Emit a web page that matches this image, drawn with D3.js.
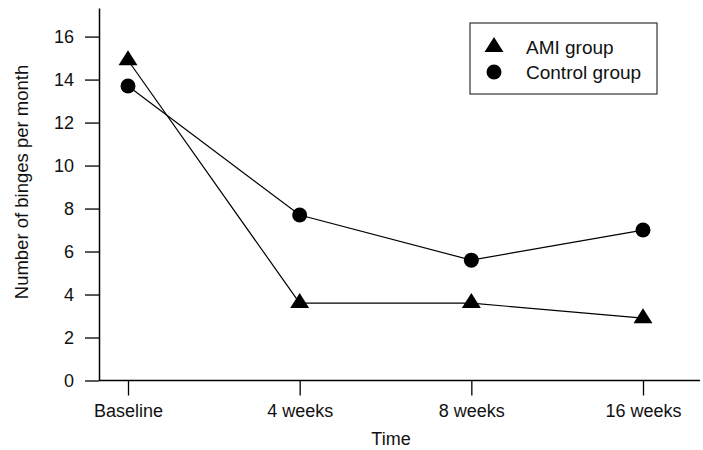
<!DOCTYPE html>
<html>
<head>
<meta charset="utf-8">
<script src="https://cdn.jsdelivr.net/npm/d3@7"></script>
<style>
  body { margin: 0; background: #fff; }
  svg { display: block; }
  text { font-family: "Liberation Sans", Arial, Helvetica, sans-serif; fill: #111; }
</style>
</head>
<body>
<div class="container"></div>
<script>
const WIDTH = 703;
const HEIGHT = 450;

// data
var timePoints = ["Baseline", "4 weeks", "8 weeks", "16 weeks"];
var amiValues = [14.9, 3.6, 3.6, 2.9];
var controlValues = [13.7, 7.7, 5.6, 7.0];
var yTicks = [0, 2, 4, 6, 8, 10, 12, 14, 16];
var seriesNames = ["AMI group", "Control group"];

var AXIS_X = 99;
var AXIS_Y = 380.5;

var translate = function (x, y) {
    return "translate(" + x + "," + y + ")";
};

var _xScale = d3.scalePoint()
    .domain(timePoints)
    .range([128, 643]);

var _yScale = d3.scaleLinear()
    .domain([0, 17.33])
    .range([AXIS_Y, 8]);

// triangle a bit flatter than an equilateral one, centred on its centroid
var trianglePath = function () {
    return "M0,-10L9.5,5L-9.5,5Z";
};

function drawMarker(sel, kind) {
    if (kind === 0) {
        sel.append("path").attr("d", trianglePath()).attr("fill", "#000");
    } else {
        sel.append("circle").attr("r", 7.5).attr("fill", "#000");
    }
}

var loadChart = function () {
    var svg = d3.select(".container").append("svg")
        .attr("width", WIDTH)
        .attr("height", HEIGHT);

    // y axis
    var yAxis = d3.axisLeft(_yScale)
        .tickValues(yTicks)
        .tickSize(14)
        .tickSizeOuter(0)
        .tickPadding(11);

    var gy = svg.append("g")
        .attr("transform", translate(AXIS_X, 0))
        .call(yAxis);
    gy.select(".domain").attr("stroke", "#000").attr("stroke-width", 1.5);
    gy.selectAll(".tick line").attr("stroke", "#000").attr("stroke-width", 1.3);
    gy.selectAll(".tick text")
        .style("font-size", "18px")
        .attr("fill", "#111");

    // x axis
    var xAxis = d3.axisBottom(_xScale)
        .tickSize(15)
        .tickSizeOuter(0)
        .tickPadding(9);

    var gx = svg.append("g")
        .attr("transform", translate(0, AXIS_Y))
        .call(xAxis);
    gx.select(".domain").remove();
    gx.append("line")
        .attr("x1", AXIS_X)
        .attr("x2", 700)
        .attr("stroke", "#000")
        .attr("stroke-width", 1.5);
    gx.selectAll(".tick line").attr("stroke", "#000").attr("stroke-width", 1.3);
    gx.selectAll(".tick text")
        .style("font-size", "18px")
        .attr("fill", "#111");

    // axis titles
    svg.append("text")
        .attr("transform", translate(28, 182) + " rotate(-90)")
        .attr("text-anchor", "middle")
        .style("font-size", "18.5px")
        .text("Number of binges per month");

    svg.append("text")
        .attr("x", 391)
        .attr("y", 445)
        .attr("text-anchor", "middle")
        .style("font-size", "18px")
        .text("Time");

    // series
    var series = [amiValues, controlValues];
    var line = d3.line()
        .x(function (d, i) { return _xScale(timePoints[i]); })
        .y(function (d) { return _yScale(d); });

    series.forEach(function (values) {
        svg.append("path")
            .datum(values)
            .attr("fill", "none")
            .attr("stroke", "#000")
            .attr("stroke-width", 1.2)
            .attr("d", line);
    });

    series.forEach(function (values, k) {
        svg.append("g").selectAll("g")
            .data(values)
            .enter().append("g")
            .attr("transform", function (d, i) {
                return translate(_xScale(timePoints[i]), _yScale(d));
            })
            .each(function () { drawMarker(d3.select(this), k); });
    });

    // legend
    var legend = svg.append("g").attr("transform", translate(470, 23));
    legend.append("rect")
        .attr("width", 187)
        .attr("height", 71)
        .attr("fill", "#fff")
        .attr("stroke", "#333")
        .attr("stroke-width", 1.2);

    var item = legend.selectAll(".item")
        .data(seriesNames)
        .enter().append("g")
        .attr("class", "item")
        .attr("transform", function (d, i) { return translate(24, 24 + i * 25); });

    item.each(function (d, i) { drawMarker(d3.select(this), i); });
    item.append("text")
        .attr("x", 32)
        .attr("y", 7)
        .style("font-size", "19px")
        .text(function (d) { return d; });
};

window.onload = loadChart;
</script>
</body>
</html>
